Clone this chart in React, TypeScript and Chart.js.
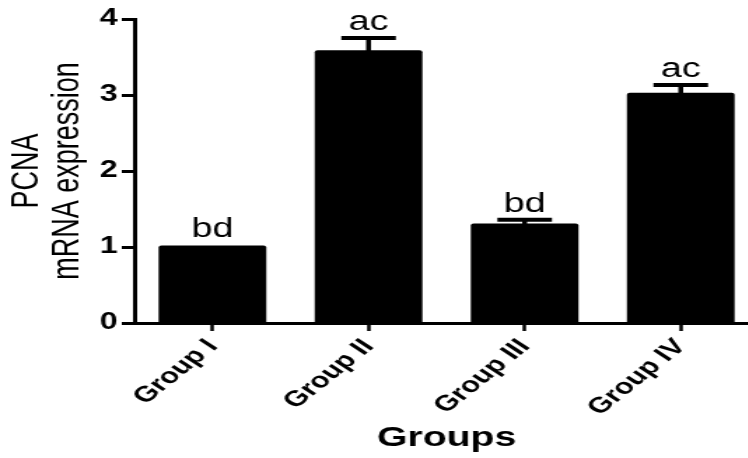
import React, { useEffect, useRef } from "react";
import { Chart, registerables } from "chart.js";

Chart.register(...registerables);

// ---- data ----
const categories = ["Group I", "Group II", "Group III", "Group IV"];
const means = [1.02, 3.59, 1.31, 3.03];
const errors = [0, 0.16, 0.05, 0.1];
const sigLabels = ["bd", "ac", "bd", "ac"];
const yTicks = [0, 1, 2, 3, 4];
const yTitle = ["PCNA", "mRNA expression"];
const xTitle = "Groups";

// ---- layout / style ----
const SX = 1.4; // horizontal stretch of the reference picture
const INNER_W = 542;
const H = 458;
const FONT = "'Liberation Sans', Arial, Helvetica, sans-serif";

const errorPlugin = {
  id: "errAnno",
  afterDatasetsDraw(chart: any) {
    const ctx = chart.ctx;
    const meta = chart.getDatasetMeta(0);
    const yScale = chart.scales.y;
    ctx.save();
    meta.data.forEach((bar: any, i: number) => {
      const x = bar.x;
      const base = yScale.getPixelForValue(means[i]);
      const top = yScale.getPixelForValue(means[i] + errors[i]);
      if (errors[i] > 0) {
        ctx.strokeStyle = "#000";
        ctx.lineWidth = 3.5;
        ctx.beginPath();
        ctx.moveTo(x, base + 2);
        ctx.lineTo(x, top);
        ctx.stroke();
        ctx.lineWidth = 4;
        ctx.beginPath();
        ctx.moveTo(x - 19.5, top);
        ctx.lineTo(x + 19.5, top);
        ctx.stroke();
      }
      ctx.fillStyle = "#000";
      ctx.font = `27px ${FONT}`;
      ctx.textAlign = "center";
      ctx.textBaseline = "alphabetic";
      ctx.fillText(sigLabels[i], x, top - 8);
    });
    ctx.restore();
  },
};

export default function App() {
  const ref = useRef<HTMLCanvasElement>(null);
  useEffect(() => {
    document.body.style.margin = "0";
    document.body.style.overflow = "hidden";
    document.documentElement.style.overflow = "hidden";
    const chart = new Chart(ref.current as HTMLCanvasElement, {
      type: "bar",
      data: {
        labels: categories,
        datasets: [
          {
            data: means,
            backgroundColor: "#000",
            borderColor: "#000",
            borderWidth: 0,
            borderRadius: 2,
            categoryPercentage: 1,
            barPercentage: 0.69,
          },
        ],
      },
      options: {
        animation: false,
        responsive: true,
        maintainAspectRatio: false,
        layout: { padding: { top: 19, right: 0, bottom: 0, left: 0 } },
        plugins: { legend: { display: false }, tooltip: { enabled: false } },
        scales: {
          x: {
            type: "category",
            offset: true,
            grid: {
              display: true,
              offset: false,
              drawOnChartArea: false,
              drawTicks: true,
              tickLength: 8,
              tickWidth: 2.5,
              tickColor: "#000",
              color: "#000",
            },
            border: { display: true, color: "#000", width: 3 },
            ticks: {
              color: "#000",
              font: { family: FONT, size: 22, weight: "bold" },
              minRotation: 48,
              maxRotation: 48,
              padding: 3,
              autoSkip: false,
            },
            title: {
              display: true,
              text: xTitle,
              color: "#000",
              font: { family: FONT, size: 28, weight: "bold", lineHeight: 1.2 },
              padding: { top: 3, bottom: 3 },
            },
            afterFit(s: any) {
              s.height = 135;
            },
          },
          y: {
            min: 0,
            max: 4,
            afterBuildTicks(s: any) {
              s.ticks = yTicks.map((v) => ({ value: v }));
            },
            ticks: {
              color: "#000",
              font: { family: FONT, size: 23, weight: "bold" },
              padding: 3,
            },
            grid: {
              display: true,
              drawOnChartArea: false,
              drawTicks: true,
              tickLength: 9,
              tickWidth: 3,
              tickColor: "#000",
            },
            border: { display: true, color: "#000", width: 3 },
            title: {
              display: true,
              text: yTitle,
              color: "#000",
              font: { family: FONT, size: 27, lineHeight: 1.08 },
              padding: { top: 5, bottom: 5 },
            },
            afterFit(s: any) {
              s.width = 96;
            },
          },
        },
      },
      plugins: [errorPlugin],
    } as any);
    return () => chart.destroy();
  }, []);
  return (
    <div
      style={{
        width: INNER_W,
        height: H,
        transform: `scaleX(${SX})`,
        transformOrigin: "0 0",
        position: "relative",
      }}
    >
      <canvas ref={ref} />
    </div>
  );
}
